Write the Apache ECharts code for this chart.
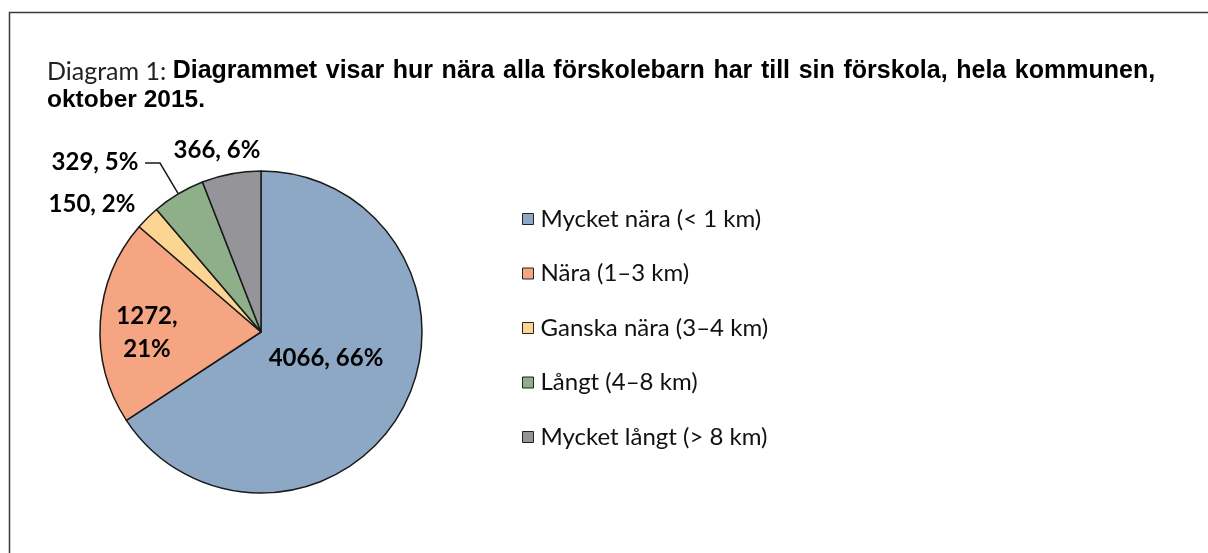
<!DOCTYPE html>
<html>
<head>
<meta charset="utf-8">
<script src="https://cdn.jsdelivr.net/npm/echarts@6/dist/echarts.min.js"></script>
<style>
html,body{margin:0;padding:0;background:#fff;}
#main{width:1208px;height:553px;}
</style>
</head>
<body>
<div id="main"></div>
<script>
const categories = ['Mycket nära (< 1 km)', 'Nära (1–3 km)', 'Ganska nära (3–4 km)', 'Långt (4–8 km)', 'Mycket långt (> 8 km)'];
const values = [4066, 1272, 150, 329, 366];
const colors = ['#8DA8C5', '#F6A582', '#FDD592', '#8EAF8A', '#959599'];
const titlePrefix = 'Diagram 1: ';
const titleLine1 = 'Diagrammet visar hur nära alla förskolebarn har till sin förskola, hela kommunen,';
const titleLine2 = 'oktober 2015.';

// label placement (layout only)
const labelPos = [[326, 358], [147, 333], [92, 204], [95, 162], [217, 150]];

// first title line is slightly justified in the original
const line1Rich = titleLine1.split(' ').map(w => '{b|' + w + '}').join('{s| }');

const chart = echarts.init(document.getElementById('main'));
chart.setOption({
  animation: false,
  backgroundColor: '#fff',
  graphic: [{
    type: 'polyline',
    shape: {points: [[9.5, 600], [9.5, 12.5], [1300, 12.5]]},
    style: {stroke: '#3a3a3a', lineWidth: 1.5, fill: null}
  }],
  title: {
    left: 47, top: 57,
    padding: 0,
    text: '{a|' + titlePrefix + '}' + line1Rich + '\n{c|' + titleLine2 + '}',
    textStyle: {
      rich: {
        a: {fontFamily: 'Lato', fontWeight: 'normal', fontSize: 25, color: '#222', lineHeight: 29},
        b: {fontFamily: 'Liberation Sans', fontWeight: 'bold', fontSize: 25, color: '#000', lineHeight: 29},
        s: {fontFamily: 'Liberation Sans', fontWeight: 'bold', fontSize: 31, color: '#000', lineHeight: 29},
        c: {fontFamily: 'Liberation Sans', fontWeight: 'bold', fontSize: 24.5, color: '#000', lineHeight: 29}
      }
    }
  },
  legend: {
    orient: 'vertical',
    left: 517, top: 202,
    itemWidth: 11, itemHeight: 11,
    itemGap: 30.5,
    icon: 'rect',
    itemStyle: {borderColor: '#222', borderWidth: 1},
    textStyle: {fontFamily: 'Lato', fontSize: 24, color: '#111', lineHeight: 24, padding: [0, 0, 0, 2]},
    data: categories
  },
  series: [{
    type: 'pie',
    center: [261, 332],
    radius: 161,
    startAngle: 90,
    clockwise: true,
    percentPrecision: 0,
    itemStyle: {borderColor: '#1a1a1a', borderWidth: 1.5},
    label: {
      fontFamily: 'Lato', fontWeight: 'bold', fontSize: 24, color: '#000', lineHeight: 33,
      overflow: 'none',
      formatter: p => p.dataIndex === 1 ? p.value + ',\n' + p.percent + '%' : p.value + ', ' + p.percent + '%'
    },
    labelLine: {lineStyle: {color: '#1a1a1a', width: 1.5}},
    labelLayout: function (params) {
      const pos = labelPos[params.dataIndex];
      const out = {x: pos[0], y: pos[1], align: 'center', verticalAlign: 'middle'};
      if (params.dataIndex === 3 && params.labelLinePoints) {
        const start = params.labelLinePoints[0];
        out.labelLinePoints = [start, [160, 163], [145, 163]];
      }
      return out;
    },
    data: categories.map((c, i) => ({
      name: c,
      value: values[i],
      itemStyle: {color: colors[i]},
      label: {position: i < 2 ? 'inside' : 'outside'},
      labelLine: {show: i === 3}
    }))
  }]
});
</script>
</body>
</html>
